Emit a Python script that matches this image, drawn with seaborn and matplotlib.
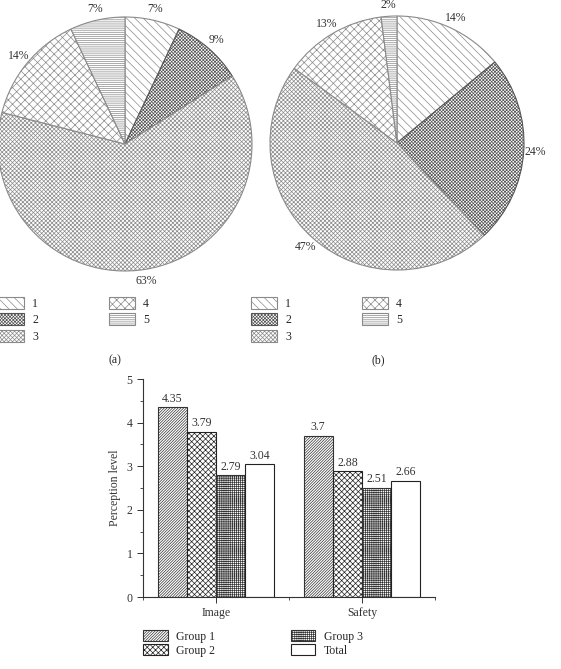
import pandas as pd
import matplotlib.pyplot as plt
import seaborn as sns

# Data
pie_labels = ["1", "2", "3", "4", "5"]
pie_a = [7, 9, 63, 14, 7]
pie_b = [14, 24, 47, 13, 2]

aspects = ["Image", "Safety"]
groups = ["Group 1", "Group 2", "Group 3", "Total"]
image_vals = [4.35, 3.79, 2.79, 3.04]
safety_vals = [3.7, 2.88, 2.51, 2.66]

sns.set_style("ticks")
plt.rcParams["font.family"] = ["Liberation Serif", "DejaVu Serif"]
plt.rcParams["hatch.linewidth"] = 0.5
FS = 8.5

W, H = 561, 669
fig = plt.figure(figsize=(W / 100, H / 100), dpi=100)


def px_box(left, top, width, height):
    # pixel box (top-left origin) -> figure fraction
    return [left / W, 1 - (top + height) / H, width / W, height / H]


pie_hatches = ["\\" * 4, "x" * 10, "x" * 8, "x" * 4, "-" * 8]
pie_edges = ["#8a8a8a", "#555555", "#8a8a8a", "#8a8a8a", "#8a8a8a"]


def draw_pie(values, cx, cy, r):
    ax = fig.add_axes(px_box(cx - r, cy - r, 2 * r, 2 * r))
    wedges, _, pcts = ax.pie(values, startangle=90, counterclock=False,
                             colors=["white"] * len(values),
                             autopct="%.0f%%", pctdistance=1.09,
                             textprops={"fontsize": FS, "color": "#333333"},
                             wedgeprops={"linewidth": 0.8})
    for w, h, ec in zip(wedges, pie_hatches, pie_edges):
        w.set_hatch(h)
        w.set_edgecolor(ec)
    ax.set_xlim(-1, 1)
    ax.set_ylim(-1, 1)
    return wedges


wedges_a = draw_pie(pie_a, 125, 144, 127)
wedges_b = draw_pie(pie_b, 397, 143, 127)

leg_kw = dict(loc="upper left", ncol=2, frameon=False, fontsize=FS,
              borderpad=0, borderaxespad=0, handlelength=2.2,
              handleheight=1.15, labelspacing=0.3, handletextpad=0.7,
              columnspacing=6.0, bbox_transform=fig.transFigure)
fig.legend(wedges_a, pie_labels, bbox_to_anchor=(-2 / W, 1 - 297 / H), **leg_kw)
fig.legend(wedges_b, pie_labels, bbox_to_anchor=(251 / W, 1 - 297 / H), **leg_kw)
fig.text(115 / W, 1 - 360 / H, "(a)", ha="center", va="center", fontsize=FS)
fig.text(378 / W, 1 - 360 / H, "(b)", ha="center", va="center", fontsize=FS)

# Bar chart
df = pd.DataFrame({
    "aspect": [a for a in aspects for _ in groups],
    "group": groups * len(aspects),
    "level": image_vals + safety_vals,
})

ax = fig.add_axes(px_box(143, 379, 292, 218))
sns.barplot(data=df, x="aspect", y="level", hue="group", hue_order=groups,
            palette=["white"] * 4, edgecolor="#222222", linewidth=0.8,
            width=0.8, legend=False, ax=ax)

bar_hatches = ["/" * 12, "x" * 6, "+" * 8, ""]
bar_edges = ["#333333", "#222222", "#333333", "#222222"]
for cont, h, ec in zip(ax.containers, bar_hatches, bar_edges):
    for bar in cont:
        bar.set_hatch(h)
        bar.set_edgecolor(ec)
    ax.bar_label(cont, fmt="%g", padding=2, fontsize=FS, color="#333333")

ax.set_xlim(-0.5, 1.5)
ax.set_ylim(0, 5)
ax.set_yticks(range(6))
ax.set_yticks([i + 0.5 for i in range(5)], minor=True)
ax.set_xticks([0, 1])
ax.set_xticklabels(aspects)
ax.set_xticks([-0.5, 0.5, 1.5], minor=True)
ax.set_xlabel("")
ax.set_ylabel("Perception level", fontsize=FS, color="#333333")
ax.tick_params(axis="both", which="major", length=4, width=0.7,
               labelsize=FS, colors="#333333", direction="out")
ax.tick_params(axis="both", which="minor", length=2.5, width=0.6,
               colors="#333333", direction="out")
sns.despine(ax=ax)
for s in ["left", "bottom"]:
    ax.spines[s].set_color("#333333")
    ax.spines[s].set_linewidth(0.8)

fig.legend(ax.containers, groups, loc="upper left", ncol=2, frameon=False,
           fontsize=FS, borderpad=0, borderaxespad=0, handlelength=2.1,
           handleheight=1.05, labelspacing=0.15, handletextpad=0.7,
           columnspacing=6.4, bbox_to_anchor=(143 / W, 1 - 630 / H),
           bbox_transform=fig.transFigure)

fig.savefig("out.png", dpi=100)
